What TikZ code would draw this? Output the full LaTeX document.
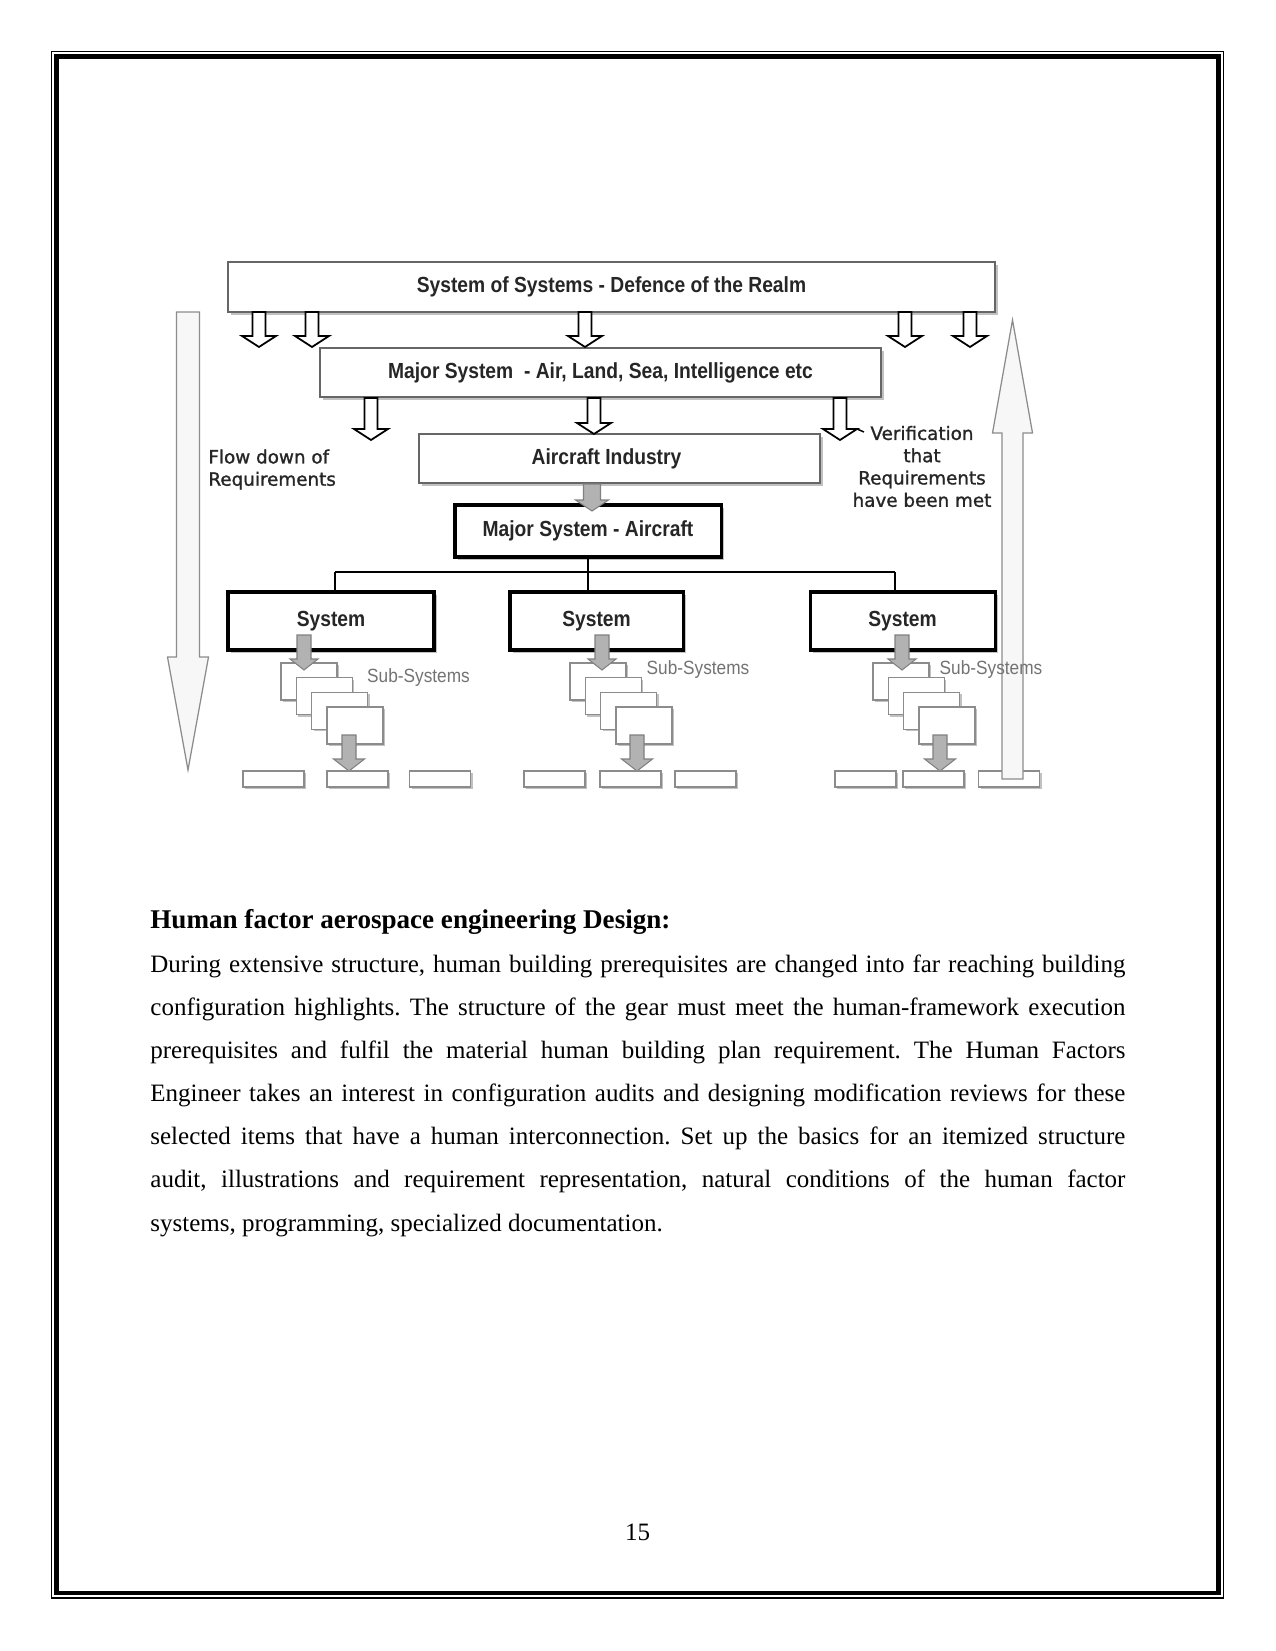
\documentclass[tikz,border=0pt]{standalone}
\usepackage{fontspec}
\setmainfont{Liberation Serif}
\newfontfamily\boxfont[FakeStretch=0.88]{Liberation Sans}
\newfontfamily\subfont[FakeStretch=0.9]{Liberation Sans}
\newfontfamily\handfont[FakeBold=1.2]{DejaVu Sans}
\usetikzlibrary{shadows}
\frenchspacing
% block arrow: [style]{x}{y tail}{y tip}{shaft half}{head half}{y head base}
\newcommand\blockarrow[7][]{%
  \draw[#1] (#2-#5,#3) -- (#2+#5,#3) -- (#2+#5,#7) -- (#2+#6,#7) -- (#2,#4)
    -- (#2-#6,#7) -- (#2-#5,#7) -- cycle;}
\begin{document}
\begin{tikzpicture}[x=0.48pt,y=-0.48pt,
  wh/.style 2 args={minimum width=#1*0.48pt,minimum height=#2*0.48pt,inner sep=0pt},
  shad/.style={drop shadow={shadow xshift=1.5pt,shadow yshift=-1.5pt,opacity=0.3,fill=black!80}},
  smallshad/.style={drop shadow={shadow xshift=1pt,shadow yshift=-1pt,opacity=0.3,fill=black!80}},
  bigbox/.style={draw=black!60,line width=0.7pt,fill=white,shad,
    font=\fontsize{10.5}{12}\boxfont\bfseries,text=black!85},
  thickbox/.style={draw=black,line width=1.45pt,fill=white,shad,
    font=\fontsize{10.5}{12}\boxfont\bfseries,text=black!85},
  stackbox/.style={draw=black!45,line width=0.6pt,fill=white,smallshad},
  leafbox/.style={draw=black!45,line width=0.6pt,fill=white,smallshad},
  openarr/.style={draw=black,line width=0.85pt,fill=white},
  grayarr/.style={draw=black!50,line width=0.5pt,fill=black!30},
  bigarr/.style={draw=black!45,line width=0.6pt,fill=black!3},
  tree/.style={draw=black,line width=1.2pt},
  sublabel/.style={font=\fontsize{9.2}{11}\subfont,text=black!55,inner sep=0pt},
  hand/.style={font=\fontsize{8.8}{10.7}\handfont,text=black!85,inner sep=0pt},
]
\useasboundingbox (0,0) rectangle (1275,1651);
\fill[white] (0,0) rectangle (1275,1651);
% page border
\draw[line width=0.72pt] (51.5,51.5) rectangle (1223.3,1598);
\draw[line width=2.26pt] (56.8,56.5) rectangle (1218.3,1593);

% big side arrows (left)
\blockarrow[bigarr]{188}{312}{770}{11.5}{20.5}{657}

% main boxes
\node[bigbox,wh={767}{50}] (sos) at (611.5,287) {System of Systems - Defence of the Realm};
\node[bigbox,wh={561}{49}] (major) at (600.5,372.5) {Major System\ \ - Air, Land, Sea, Intelligence etc};
\node[bigbox,wh={401}{49}] (ai) at (619.5,458.5) {Aircraft Industry\hspace*{12.5pt}};
\node[thickbox,wh={266}{52}] (msa) at (588,531) {Major System - Aircraft};
\node[thickbox,wh={206}{58}] (sys1) at (331,621) {System};
\node[thickbox,wh={173}{58}] (sys2) at (596.5,621) {System};
\node[thickbox,wh={185}{58}] (sys3) at (902.5,621) {System};

% open arrows from top box
\foreach \ax in {259,312,585,905,970} {\blockarrow[openarr]{\ax}{312}{347}{6.5}{17}{336}}
% open arrows from major system box
\blockarrow[openarr]{371}{398}{440}{6.5}{17}{429}
\blockarrow[openarr]{594}{398}{434}{6.5}{17}{423}
\blockarrow[openarr]{840}{398}{440}{6.5}{17}{429}
\draw[line width=0.7pt] (857,429) -- (864,432);

% gray arrow aircraft industry -> major system aircraft
\blockarrow[grayarr]{592}{484}{511}{8.5}{16.5}{500}

% tree
\coordinate (hl) at (335,572);
\coordinate (hr) at (895,572);
\draw[tree] (msa.south) -- (msa.south |- sys2.north);
\draw[tree] (hl) -- (hr);
\draw[tree] (hl) -- (hl |- sys1.north);
\draw[tree] (hr) -- (hr |- sys3.north);

% sub-system stacks
\foreach \s/\L in {1/281,2/570,3/873} {
  \foreach \i in {0,...,3} {
    \node[stackbox,wh={56}{37}] (st\s\i) at ({\L+28+15.3*\i},{681.5+14.7*\i}) {};
  }
}
% gray arrows system -> stack
\foreach \ax in {304,602,902} {\blockarrow[grayarr]{\ax}{635}{670}{7}{14}{659}}
% gray arrows stack -> leaf
\foreach \ax in {349,637,940} {\blockarrow[grayarr]{\ax}{735}{771}{7}{15.5}{759}}

% leaf boxes
\foreach \n/\cx in {11/273.5,12/357.5,13/440,21/554.5,22/630.5,23/705.5,31/865.5,32/933.5,33/1009} {
  \node[leafbox,wh={61}{16}] (bb\n) at (\cx,779) {};
}

% big side arrow (right)
\blockarrow[bigarr]{1012.5}{779}{320}{10.5}{20}{433}

% labels
\node[sublabel] (sub1) at (418.5,678) {Sub-Systems};
\node[sublabel] (sub2) at (698,670) {Sub-Systems};
\node[sublabel] (sub3) at (991,670) {Sub-Systems};
\node[hand,anchor=west,align=left] (flow) at (208,469.5) {Flow down of\\Requirements};
\node[hand,align=center] (verif) at (922,466.5) {Verification\\that\\Requirements\\have been met};

% text
\node[anchor=base west,inner sep=0pt] (head) at (150,928)
  {\fontsize{13}{15}\selectfont\bfseries Human factor aerospace engineering Design:};
\node[anchor=base west,inner sep=0pt] (body) at (150,972) {\fontsize{12}{20.72}\selectfont\vtop{\hsize=468pt
\hbox to\hsize{During extensive structure, human building prerequisites are changed into far reaching building}
\hbox to\hsize{configuration highlights. The structure of the gear must meet the human-framework execution}
\hbox to\hsize{prerequisites and fulfil the material human building plan requirement. The Human Factors}
\hbox to\hsize{Engineer takes an interest in configuration audits and designing modification reviews for these}
\hbox to\hsize{selected items that have a human interconnection. Set up the basics for an itemized structure}
\hbox to\hsize{audit, illustrations and requirement representation, natural conditions of the human factor}
\hbox{systems, programming, specialized documentation.}}};
\node[anchor=base,inner sep=0pt] (pnum) at (637.5,1540) {\fontsize{12}{14}\selectfont 15};
\end{tikzpicture}
\end{document}
